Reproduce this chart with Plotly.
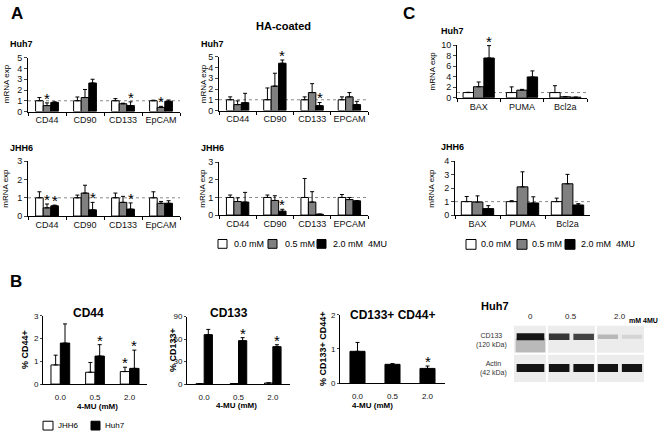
import plotly.graph_objects as go

FONT = "Arial, 'Liberation Sans', sans-serif"
W, H = 660, 436

# ---------------- data ----------------
genes_a = ["CD44", "CD90", "CD133", "EpCAM"]
genes_a_ha = ["CD44", "CD90", "CD133", "EPCAM"]
genes_c = ["BAX", "PUMA", "Bcl2a"]
doses = ["0.0", "0.5", "2.0"]
series_names = ["0.0 mM", "0.5 mM", "2.0 mM"]

# Panel A - Huh7 (plastic)
a_huh7_val = [[1.0, 1.0, 1.0, 1.0], [0.55, 1.3, 0.72, 0.38], [0.85, 2.65, 0.55, 0.95]]
a_huh7_err = [[0.3, 0.35, 0.2, 0.05], [0.25, 0.75, 0.05, 0.1], [0.05, 0.35, 0.35, 0.12]]
a_huh7_stars = [(0, 1), (2, 2), (3, 1)]
# Panel A - Huh7 HA-coated
a_huh7_ha_val = [[1.0, 1.0, 1.0, 1.0], [0.55, 2.27, 1.67, 1.27], [0.73, 4.4, 0.45, 0.55]]
a_huh7_ha_err = [[0.27, 1.1, 0.27, 0.27], [0.35, 1.2, 0.83, 0.4], [0.87, 0.3, 0.3, 0.3]]
a_huh7_ha_stars = [(1, 2), (2, 2)]
# Panel A - JHH6 (plastic)
a_jhh6_val = [[1.0, 1.0, 1.0, 1.0], [0.45, 1.26, 0.75, 0.7], [0.56, 0.34, 0.38, 0.7]]
a_jhh6_err = [[0.33, 0.15, 0.26, 0.33], [0.21, 0.43, 0.33, 0.1], [0.04, 0.41, 0.34, 0.14]]
a_jhh6_stars = [(0, 1), (0, 2), (1, 2), (2, 2)]
# Panel A - JHH6 HA-coated
a_jhh6_ha_val = [[1.0, 1.0, 1.0, 1.0], [0.77, 0.83, 0.74, 0.88], [0.74, 0.22, 0.05, 0.81]]
a_jhh6_ha_err = [[0.14, 0.14, 1.08, 0.17], [0.21, 0.27, 0.59, 0.12], [0.55, 0.11, 0.0, 0.0]]
a_jhh6_ha_stars = [(1, 2)]
# Panel C - Huh7
c_huh7_val = [[1.0, 1.0, 1.0], [2.1, 1.46, 0.2], [7.55, 3.96, 0.12]]
c_huh7_err = [[0.05, 1.07, 1.3], [0.9, 0.14, 0.0], [2.35, 1.14, 0.0]]
c_huh7_stars = [(0, 2)]
# Panel C - JHH6
c_jhh6_val = [[1.0, 1.0, 1.0], [0.97, 2.1, 2.33], [0.48, 0.9, 0.75]]
c_jhh6_err = [[0.38, 0.07, 0.26], [0.46, 1.12, 0.7], [0.22, 0.46, 0.1]]
c_jhh6_stars = []
# Panel B - flow cytometry
b_cd44_jhh6 = [0.84, 0.52, 0.55]
b_cd44_jhh6_err = [0.43, 0.43, 0.19]
b_cd44_huh7 = [1.8, 1.23, 0.69]
b_cd44_huh7_err = [0.84, 0.5, 0.8]
b_cd44_stars = [(1, 1), (2, 0), (2, 1)]
b_cd133_jhh6 = [0.5, 0.8, 1.5]
b_cd133_jhh6_err = [0.0, 0.0, 0.0]
b_cd133_huh7 = [66.0, 58.0, 50.0]
b_cd133_huh7_err = [7.0, 4.0, 2.6]
b_cd133_stars = [(1, 1), (2, 1)]
b_dp_huh7 = [0.93, 0.55, 0.43]
b_dp_huh7_err = [0.26, 0.02, 0.07]
b_dp_stars = [(2, 0)]
# Western blot (relative band intensities per lane)
blot_lanes = ["0", "0.5", "2.0"]
blot_lane_width = [0.76, 1.13, 1.11]
blot_cd133_bands = [[1.0], [0.85, 0.8], [0.3, 0.18]]
blot_cd133_smear = [0.45, 0.0, 0.0]
blot_actin_bands = [[1.0], [1.0, 1.0], [1.0, 1.0]]

BAR_COLORS = ["white", "#808080", "black"]


def px_x(a, b):
    return [a / W, b / W]


def px_y(top, bot):
    return [1 - bot / H, 1 - top / H]


fig = go.Figure()
axes = {}
shapes = []
annotations = []


def sfx(n):
    return "" if n == 1 else str(n)


def add_axes(n, xbox, ybox, yrange, dtick, cats, boundary_ticks=True, tick_size=9):
    axes["xaxis" + sfx(n)] = dict(
        domain=px_x(*xbox), anchor="y" + sfx(n), type="category",
        categoryorder="array", categoryarray=cats, range=[-0.5, len(cats) - 0.5],
        showline=True, linecolor="black", linewidth=1, tickangle=0,
        ticks="outside",
        tickson="boundaries" if boundary_ticks else "labels",
        ticklen=3 if boundary_ticks else 5,
        tickcolor="black" if boundary_ticks else "rgba(0,0,0,0)",
        tickfont=dict(size=tick_size, family=FONT, color="#111"),
        showgrid=False, zeroline=False, fixedrange=True)
    axes["yaxis" + sfx(n)] = dict(
        domain=px_y(*ybox), anchor="x" + sfx(n), range=yrange, dtick=dtick, tick0=0,
        showline=True, linecolor="black", linewidth=1, ticks="outside",
        ticklen=3 if boundary_ticks else 2,
        tickfont=dict(size=tick_size, family=FONT, color="#111"),
        showgrid=False, zeroline=False, fixedrange=True)


def add_bars(n, cats, vals, errs, colors, width, stars, refline=False):
    ns = len(vals)
    for k in range(ns):
        fig.add_trace(go.Bar(
            x=cats, y=vals[k],
            error_y=dict(type="data", array=errs[k], arrayminus=[0] * len(cats),
                         symmetric=False, color="black", thickness=1, width=2),
            marker=dict(color=colors[k], line=dict(color="black", width=1)),
            width=width, offset=(k - ns / 2) * width,
            xaxis="x" + sfx(n), yaxis="y" + sfx(n), showlegend=False))
    for (i, k) in stars:
        annotations.append(dict(
            x=i + (k - (ns - 1) / 2) * width, y=vals[k][i] + errs[k][i],
            xref="x" + sfx(n), yref="y" + sfx(n), text="*", showarrow=False,
            yanchor="bottom", yshift=-6, font=dict(size=15, family=FONT, color="black")))
    if refline:
        shapes.append(dict(type="line", xref="x" + sfx(n) + " domain", x0=0, x1=1,
                           yref="y" + sfx(n), y0=1, y1=1, layer="below",
                           line=dict(color="#8a8a8a", width=1, dash="dot")))


def text(x, y, s, size=9, bold=False, xanchor="center", angle=0, color="black"):
    annotations.append(dict(
        x=x / W, y=1 - y / H, xref="paper", yref="paper", showarrow=False,
        text=f"<b>{s}</b>" if bold else s, xanchor=xanchor, yanchor="middle",
        textangle=angle, borderpad=0, font=dict(size=size, family=FONT, color=color)))


def box(x0, y0, x1, y1, color):
    shapes.append(dict(type="rect", xref="paper", yref="paper",
                       x0=x0 / W, x1=x1 / W, y0=1 - y1 / H, y1=1 - y0 / H,
                       fillcolor=color, line=dict(color="black", width=1)))


# ---------- Panel A ----------
add_axes(1, (28, 180), (54, 109), [0, 5], 1, genes_a)
add_bars(1, genes_a, a_huh7_val, a_huh7_err, BAR_COLORS, 0.2, a_huh7_stars, True)
add_axes(2, (219, 368), (53, 108), [0, 5], 1, genes_a_ha)
add_bars(2, genes_a_ha, a_huh7_ha_val, a_huh7_ha_err, BAR_COLORS, 0.2, a_huh7_ha_stars, True)
add_axes(3, (28, 180), (160, 216), [0, 3], 1, genes_a)
add_bars(3, genes_a, a_jhh6_val, a_jhh6_err, BAR_COLORS, 0.2, a_jhh6_stars, True)
add_axes(4, (219, 368), (161, 215), [0, 3], 1, genes_a_ha)
add_bars(4, genes_a_ha, a_jhh6_ha_val, a_jhh6_ha_err, BAR_COLORS, 0.2, a_jhh6_ha_stars, True)

# ---------- Panel C ----------
add_axes(5, (457, 587), (41, 95), [0, 10], 2, genes_c)
add_bars(5, genes_c, c_huh7_val, c_huh7_err, BAR_COLORS, 0.24, c_huh7_stars, True)
add_axes(6, (455, 590), (160, 215), [0, 4], 1, genes_c)
add_bars(6, genes_c, c_jhh6_val, c_jhh6_err, BAR_COLORS, 0.24, c_jhh6_stars, True)

# ---------- Panel B ----------
add_axes(7, (43, 147), (318, 388), [0, 3], 1, doses, boundary_ticks=False, tick_size=8)
add_bars(7, doses, [b_cd44_jhh6, b_cd44_huh7], [b_cd44_jhh6_err, b_cd44_huh7_err],
         ["white", "black"], 0.27, b_cd44_stars)
add_axes(8, (187, 290), (319, 388), [0, 90], 30, doses, boundary_ticks=False, tick_size=8)
add_bars(8, doses, [b_cd133_jhh6, b_cd133_huh7], [b_cd133_jhh6_err, b_cd133_huh7_err],
         ["white", "black"], 0.24, b_cd133_stars)
add_axes(9, (340, 445), (317, 387), [0, 2], 1, doses, boundary_ticks=False, tick_size=8)
add_bars(9, doses, [b_dp_huh7], [b_dp_huh7_err], ["black"], 0.43, b_dp_stars)

# ---------- Western blot ----------
total_w = sum(blot_lane_width)
axes["xaxis10"] = dict(domain=px_x(514, 644), anchor="y10", range=[0, total_w],
                       visible=False, fixedrange=True)
axes["yaxis10"] = dict(domain=px_y(328, 386), anchor="x10", range=[0, 2],
                       visible=False, fixedrange=True)
shapes.append(dict(type="rect", xref="x10", yref="y10", x0=0, x1=total_w, y0=0, y1=2,
                   fillcolor="#ececec", line=dict(width=0), layer="below"))
left = 0.0
for li, lw in enumerate(blot_lane_width):
    # CD133 smear
    sm = blot_cd133_smear[li]
    if sm > 0:
        g = int(255 * (1 - 0.6 * sm))
        fig.add_trace(go.Scatter(
            x=[left + 0.05 * lw, left + 0.95 * lw, left + 0.95 * lw, left + 0.05 * lw],
            y=[1.55, 1.55, 1.05, 1.05], fill="toself", mode="lines",
            line=dict(width=0), fillcolor=f"rgb({g},{g},{g})",
            xaxis="x10", yaxis="y10", showlegend=False, hoverinfo="skip"))
    for row, (bands, yc, lwid) in enumerate([(blot_cd133_bands[li], 1.6, 7),
                                             (blot_actin_bands[li], 0.5, 8)]):
        nb = len(bands)
        for bk, inten in enumerate(bands):
            g = int(255 * (1 - 0.92 * inten))
            x0 = left + lw * (bk + 0.08) / nb
            x1 = left + lw * (bk + 0.92) / nb
            fig.add_trace(go.Scatter(
                x=[x0, x1], y=[yc, yc], mode="lines",
                line=dict(color=f"rgb({g},{g},{g})", width=lwid * (0.5 + 0.5 * inten)),
                xaxis="x10", yaxis="y10", showlegend=False, hoverinfo="skip"))
    # lane label
    annotations.append(dict(x=left + lw / 2, y=2, xref="x10", yref="y10", yanchor="bottom",
                            yshift=2, text=blot_lanes[li], showarrow=False,
                            font=dict(size=8, family=FONT, color="#222")))
    if li > 0:
        shapes.append(dict(type="line", xref="x10", yref="y10", x0=left, x1=left,
                           y0=0, y1=2, line=dict(color="white", width=2)))
    left += lw
shapes.append(dict(type="line", xref="x10", yref="y10", x0=0, x1=total_w, y0=1, y1=1,
                   line=dict(color="white", width=2)))

# ---------- Texts ----------
text(17, 9, "A", 17, True)
text(409, 9, "C", 17, True)
text(16, 283, "B", 17, True)
text(283, 22, "HA-coated", 11, True)
text(9, 40, "Huh7", 9, True, "left")
text(200, 40, "Huh7", 9, True, "left")
text(9, 146, "JHH6", 9, True, "left")
text(200, 146, "JHH6", 9, True, "left")
text(440, 27, "Huh7", 9, True, "left")
text(440, 145, "JHH6", 9, True, "left")
for (x, y) in [(6, 81), (203, 81), (6, 188), (203, 188), (432, 68), (432, 188)]:
    text(x, y, "mRNA exp", 8, False, "center", -90)

# legends for A and C
leg_a = [(218, 233), (268, 284), (317, 332)]
leg_c = [(466, 480), (517, 531), (565, 580)]
labels = ["0.0 mM", "0.5 mM", "2.0 mM&nbsp;&nbsp;4MU"]
for k in range(3):
    bx, tx = leg_a[k]
    box(bx, 240, bx + 9, 249, BAR_COLORS[k])
    text(tx, 244.5, labels[k], 9, False, "left")
    bx, tx = leg_c[k]
    box(bx, 240, bx + 10, 250, BAR_COLORS[k])
    text(tx, 245, labels[k], 9, False, "left")

# panel B titles
text(88, 315, "CD44", 12, True)
text(229, 315, "CD133", 12, True)
text(392, 317, "CD133+ CD44+", 12, True)
text(25, 353, "% CD44+", 9, True, "center", -90)
text(173, 353, "% CD133+", 9, True, "center", -90)
text(323, 352, "% CD133+ CD44+", 9, True, "center", -90)
text(97, 411, "4-MU (mM)", 8, True)
text(236, 410, "4-MU (mM)", 8, True)
text(372, 410, "4-MU (mM)", 8, True)
box(43, 426, 53, 435, "white")
text(57, 430, "JHH6", 8, False, "left")
box(91, 426, 100, 435, "black")
text(104, 430, "Huh7", 8, False, "left")

# blot texts
text(480, 308, "Huh7", 11, True, "left")
text(659, 323, "mM 4MU", 7, True, "right")
text(508, 343, "CD133<br>(120 kDa)", 7, False, "right", 0, "#333")
text(508, 372, "Actin<br>(42 kDa)", 7, False, "right", 0, "#333")

fig.update_layout(
    width=W, height=H, margin=dict(l=0, r=0, t=0, b=0),
    paper_bgcolor="white", plot_bgcolor="white", barmode="overlay",
    font=dict(family=FONT, size=9, color="black"),
    shapes=shapes, annotations=annotations, showlegend=False, **axes)

fig.write_html("out.html", config={"displayModeBar": False},
               post_script="document.body.style.margin='0';")
